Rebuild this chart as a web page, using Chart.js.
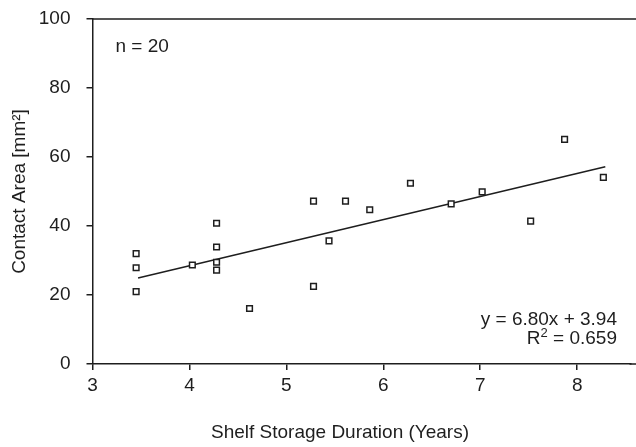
<!DOCTYPE html>
<html>
<head>
<meta charset="utf-8">
<script src="https://cdn.jsdelivr.net/npm/chart.js@4"></script>
<style>
  body { margin: 0; background: #fff; }
  #wrap { width: 636px; height: 447px; position: relative; }
</style>
</head>
<body>
<div id="wrap"><canvas id="contactChart"></canvas></div>
<script>
const xValues = [3.45, 3.45, 3.45, 4.03, 4.28, 4.28, 4.28, 4.28, 4.62, 5.28, 5.28, 5.44, 5.61, 5.86, 6.28, 6.70, 7.02, 7.52, 7.87, 8.27];
const yValues = [32.0, 27.9, 21.0, 28.7, 40.8, 33.9, 29.5, 27.2, 16.1, 47.2, 22.5, 35.7, 47.2, 44.7, 52.4, 46.4, 49.9, 41.4, 65.1, 54.1];
const trendX = [3.47, 8.29];
const trendY = [24.9, 57.2];
const xTicks = [3, 4, 5, 6, 7, 8];
const yTicks = [0, 20, 40, 60, 80, 100];

const FONT = '"Liberation Sans", Arial, sans-serif';
const INK = '#1e1e1e';

const extras = {
    id: 'extras',
    afterDraw(chart) {
        const ctx = chart.ctx;
        const a = chart.chartArea;
        ctx.save();
        // top frame line and the bottom axis running out to the edge
        ctx.strokeStyle = INK;
        ctx.lineWidth = 1.5;
        ctx.beginPath();
        ctx.moveTo(a.left, a.top);
        ctx.lineTo(chart.width, a.top);
        ctx.moveTo(a.right - 1, a.bottom);
        ctx.lineTo(chart.width, a.bottom);
        ctx.stroke();

        ctx.fillStyle = INK;
        ctx.font = '19px ' + FONT;
        ctx.textBaseline = 'middle';
        ctx.textAlign = 'left';
        ctx.fillText('n = 20', a.left + 23, a.top + 28);

        ctx.textAlign = 'right';
        ctx.fillText('y = 6.80x + 3.94', 617, 320);
        const rest = ' = 0.659';
        ctx.fillText(rest, 617, 339);
        let x = 617 - ctx.measureText(rest).width;
        ctx.font = '13px ' + FONT;
        ctx.fillText('2', x, 333);
        x -= ctx.measureText('2').width;
        ctx.font = '19px ' + FONT;
        ctx.fillText('R', x, 339);

        ctx.textAlign = 'center';
        ctx.fillText('Shelf Storage Duration (Years)', 340, 433);
        ctx.restore();
    }
};

const ctx = document.getElementById('contactChart').getContext('2d');

new Chart(ctx, {
    type: 'scatter',
    data: {
        datasets: [{
            label: 'Contact Area',
            data: xValues.map((x, i) => ({ x: x, y: yValues[i] })),
            pointStyle: 'rect',
            pointRadius: 4,
            borderWidth: 1.5,
            borderColor: INK,
            backgroundColor: '#fff',
            order: 0
        }, {
            label: 'Trend',
            type: 'line',
            data: trendX.map((x, i) => ({ x: x, y: trendY[i] })),
            borderColor: INK,
            borderWidth: 1.5,
            pointRadius: 0,
            fill: false,
            order: 1
        }]
    },
    options: {
        responsive: true,
        maintainAspectRatio: false,
        animation: false,
        layout: { padding: { top: 19, right: 0, left: 0, bottom: 0 } },
        scales: {
            x: {
                type: 'linear',
                min: 3,
                max: 8.55,
                afterBuildTicks: (s) => { s.ticks = xTicks.map(v => ({ value: v })); },
                afterFit: (s) => { s.height = 83; s.paddingLeft = 0; s.paddingRight = 0; },
                grid: { display: true, drawOnChartArea: false, drawTicks: true, tickLength: 6, color: INK, lineWidth: 1.5 },
                border: { display: true, color: INK, width: 1.5 },
                ticks: { color: INK, font: { family: FONT, size: 19 }, padding: 4, maxRotation: 0 }
            },
            y: {
                min: 0,
                max: 100,
                afterBuildTicks: (s) => { s.ticks = yTicks.map(v => ({ value: v })); },
                afterFit: (s) => { s.width = 92.5; s.paddingTop = 0; s.paddingBottom = 0; },
                grid: { display: true, drawOnChartArea: false, drawTicks: true, tickLength: 6, color: INK, lineWidth: 1.5 },
                border: { display: true, color: INK, width: 1.5 },
                ticks: { color: INK, font: { family: FONT, size: 19 }, padding: 16 },
                title: { display: true, text: 'Contact Area [mm²]', color: INK, font: { family: FONT, size: 19 }, padding: { top: 8, bottom: 0 } }
            }
        },
        plugins: {
            legend: { display: false },
            tooltip: { enabled: false }
        }
    },
    plugins: [extras]
});
</script>
</body>
</html>
